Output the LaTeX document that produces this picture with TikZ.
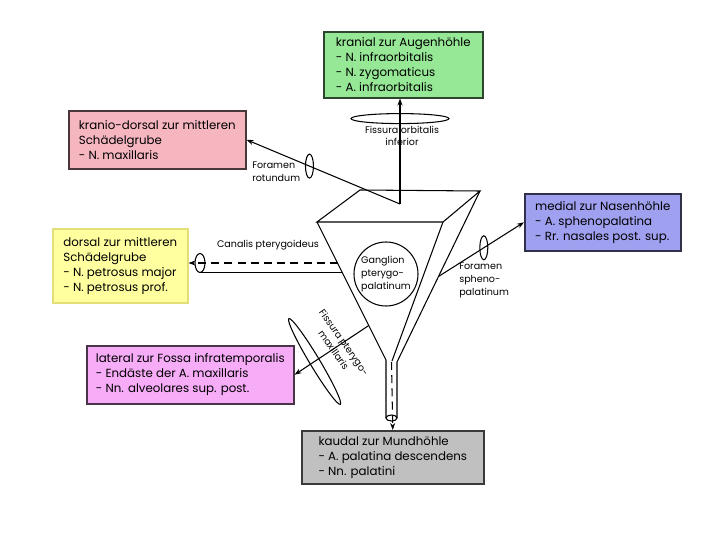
\documentclass[tikz,border=0pt]{standalone}
\usepackage{fontspec}
\setmainfont{Poppins}
\usetikzlibrary{arrows.meta,calc}
\definecolor{fgreen}{RGB}{150,232,150}
\definecolor{fpink}{RGB}{246,182,192}
\definecolor{fyellow}{RGB}{255,255,160}
\definecolor{fyellowline}{RGB}{228,222,120}
\definecolor{fblue}{RGB}{160,160,240}
\definecolor{fviolet}{RGB}{246,172,246}
\definecolor{fgray}{RGB}{192,192,192}
\tikzset{
  regbox/.style={draw=#1!30!black, fill=#1, line width=1.1pt, anchor=north west,
                 inner sep=0pt, align=left, font=\fontsize{8.4}{10.6}\selectfont},
  passlbl/.style={font=\fontsize{6.8}{9}\selectfont, inner sep=0pt},
  wall/.style={line width=0.75pt},
  opening/.style={line width=0.75pt},
  route/.style={line width=0.75pt, -{Stealth[length=5pt,width=3.6pt]}},
}

\begin{document}
\begin{tikzpicture}[x=0.25mm, y=-0.25mm]
\useasboundingbox (0,0) rectangle (720,540);

% Target regions
\node[regbox=fgreen, minimum width=39.75mm, minimum height=16.5mm] (green) at (323,31) {%
kranial zur Augenhöhle\\- N. infraorbitalis\\- N. zygomaticus\\- A. infraorbitalis};
\node[regbox=fpink, minimum width=44.25mm, minimum height=14.5mm] (pink) at (68,110) {%
kranio-dorsal zur mittleren\\Schädelgrube\\- N. maxillaris};
\node[regbox=fyellow, draw=fyellowline, minimum width=33.75mm, minimum height=18.5mm] (yellow) at (52,228) {%
dorsal zur mittleren\\Schädelgrube\\- N. petrosus major\\- N. petrosus prof.};
\node[regbox=fblue, minimum width=39mm, minimum height=14.25mm] (blue) at (524,193) {%
medial zur Nasenhöhle\\- A. sphenopalatina\\- Rr. nasales post. sup.};
\node[regbox=fviolet, minimum width=51.75mm, minimum height=14.5mm] (violet) at (86,345) {%
lateral zur Fossa infratemporalis\\- Endäste der A. maxillaris\\- Nn. alveolares sup. post.};
\node[regbox=fgray, minimum width=45.5mm, minimum height=13.25mm] (gray) at (301,430) {%
kaudal zur Mundhöhle\\- A. palatina descendens\\- Nn. palatini};

% Fossa pterygopalatina as a pyramid
\coordinate (tfl) at (317,222);
\coordinate (tfr) at (443,222);
\coordinate (tbr) at (480,191);
\coordinate (tbl) at (360,190);
\coordinate (tipl) at (386,360);
\coordinate (tipm) at (392,361);
\coordinate (tipr) at (397,362);
\draw[wall] (tfl) -- (tfr) -- (tbr) -- (tbl) -- cycle;
\draw[wall] (tfl) -- (tipl) -- (386,418);
\draw[wall] (tfr) -- (tipm);
\draw[wall] (tbr) -- (tipr) -- (397,418);
\draw[opening] (391.5,418) ellipse [x radius=5.5, y radius=3];

\node[draw, circle, line width=0.75pt, minimum size=16mm, inner sep=0pt, align=left,
      font=\fontsize{6.8}{9.4}\selectfont] (ganglion) at (386,274) {Ganglion\\pterygo-\\palatinum};

% Foramen rotundum and Fissura orbitalis inferior
\coordinate (junc) at (400,204);
\coordinate (rotring) at ($(junc)!0.59!(pink.east)$);
\coordinate (orbring) at ($(junc)!0.81!(junc |- green.south)$);
\draw[route] (junc) -- (pink.east);
\draw[route] (junc) -- (junc |- green.south);
\draw[opening] (rotring) ellipse [x radius=4, y radius=12];
\draw[opening] (orbring) ellipse [x radius=49, y radius=5];
\node[passlbl, anchor=west, align=left] (rotlbl) at (252,172) {Foramen\\rotundum};
\node[passlbl, align=center] (orblbl) at (402,136) {Fissura orbitalis\\inferior};

% Foramen sphenopalatinum
\coordinate (sph) at ($(tbr)!0.5!(tipr)$);
\coordinate (sphring) at ($(sph)!0.53!(blue.west)$);
\draw[route] (sph) -- (blue.west);
\draw[opening] (sphring) ellipse [x radius=4, y radius=12];
\node[passlbl, anchor=north west, align=left] (sphlbl) at (459,263) {Foramen\\spheno-\\palatinum};

% Canalis pterygoideus
\coordinate (cpd) at (338,263);
\coordinate (cpring) at (200,263);
\draw[route, dashed, dash pattern=on 2mm off 1.3mm] (cpd) -- (cpd -| yellow.east);
\draw[wall] ($(cpring)+(0,9.5)$) -- (342,272.5);
\draw[opening] (cpring) ellipse [x radius=5, y radius=9.5];
\node[passlbl] (cplbl) at (268,245) {Canalis pterygoideus};

% Fissura pterygomaxillaris
\coordinate (ptm) at ($(tfl)!0.75!(tipl)$);
\coordinate (ptmring) at ($(ptm)!0.73!(violet.east)$);
\draw[route] (ptm) -- (violet.east);
\draw[opening, rotate around={-59:(ptmring)}] (ptmring) ellipse [x radius=50, y radius=5];
\node[passlbl, rotate=-55, align=center] (ptmlbl) at (339,346) {Fissura pterygo-\\maxillaris};

% Canalis palatinus major
\draw[route, dashed, dash pattern=on 2mm off 1.3mm] (391.5,362) -- (gray.north);
\end{tikzpicture}
\end{document}
